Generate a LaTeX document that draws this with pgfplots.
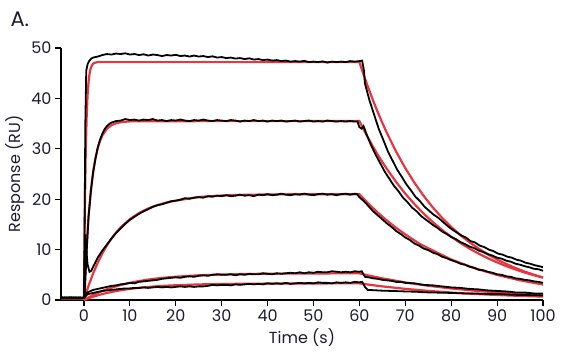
\documentclass[border=0pt]{standalone}
\usepackage{pgfplots}
\pgfplotsset{compat=1.18}
\usepackage{fontspec}
\setmainfont{Poppins}
\definecolor{txt}{HTML}{1C1C30}
\definecolor{fitred}{HTML}{E8353F}
\begin{document}
\begin{tikzpicture}
\path[use as bounding box] (-61pt,-52pt) rectangle (500pt,300pt);
\begin{axis}[
  at={(0,0)}, anchor=south west,
  scale only axis, width=482pt, height=252pt,
  xmin=-5, xmax=100, ymin=0, ymax=50,
  axis x line*=bottom, axis y line*=left,
  axis line style={line width=1.1pt, black},
  xtick={0,10,...,100}, ytick={0,10,...,50},
  tick align=outside, major tick length=6pt,
  tick style={line width=1.1pt, black},
  /pgf/number format/assume math mode=true,
  tick label style={font=\fontsize{16}{19}\selectfont, text=txt},
  label style={font=\fontsize{16}{19}\selectfont, text=txt},
  xlabel={Time (s)}, ylabel={Response (RU)},
  clip=false,
]
% ---------- red fits ----------
\addplot[fitred, line width=2.2pt] coordinates {(-5,0.3) (0,0.3) (0.2,18.6) (0.4,29.8) (0.6,36.7) (0.8,40.8) (1.0,43.3) (1.3,45.4) (1.6,46.3) (2,46.9) (2.5,47.1) (3,47.2) (60,47.2) (61,44.5) (62,41.95) (63,39.54) (64,37.28) (65,35.14) (66,33.13) (68,29.44) (70,26.16) (72,23.25) (74,20.66) (76,18.36) (78,16.32) (80,14.5) (82,12.89) (84,11.45) (86,10.18) (88,9.05) (90,8.04) (92,7.14) (94,6.35) (96,5.64) (98,5.02) (100,4.46)};
\addplot[fitred, line width=2.2pt] coordinates {(0,0) (0.5,9.59) (1,16.59) (1.5,21.7) (2,25.43) (2.5,28.15) (3,30.14) (3.5,31.58) (4,32.64) (5,33.98) (6,34.69) (7,35.07) (8,35.27) (10,35.44) (12,35.48) (60,35.5) (61,33.7) (62,31.99) (63,30.37) (64,28.83) (65,27.37) (66,25.99) (68,23.42) (70,21.1) (72,19.02) (74,17.14) (76,15.45) (78,13.92) (80,12.55) (82,11.31) (84,10.19) (86,9.18) (88,8.28) (90,7.46) (92,6.72) (94,6.06) (96,5.46) (98,4.92) (100,4.43)};
\addplot[fitred, line width=2.2pt] coordinates {(0,0) (1,2.83) (2,5.28) (3,7.4) (4,9.24) (5,10.83) (6,12.2) (7,13.39) (8,14.42) (10,16.04) (12,17.25) (14,18.16) (16,18.83) (18,19.34) (20,19.71) (25,20.44) (30,20.73) (35,20.87) (40,20.94) (50,20.99) (60,21.0) (62,19.08) (64,17.34) (66,15.76) (68,14.32) (70,13.01) (73.2,11.1) (75,10.27) (80,8.04) (85,6.33) (90,4.97) (95,3.9) (100,3.07)};
\addplot[fitred, line width=2.2pt] coordinates {(0,0) (1,0.52) (2,0.99) (3,1.41) (4,1.79) (5,2.13) (6,2.44) (8,2.98) (10,3.41) (12,3.76) (14,4.05) (16,4.28) (18,4.47) (20,4.62) (25,4.9) (30,5.06) (35,5.16) (40,5.21) (45,5.25) (50,5.27) (55,5.28) (60,5.29) (62,4.87) (65,4.3) (70,3.48) (75,2.82) (80,2.29) (85,1.85) (90,1.5) (95,1.22) (100,0.99)};
\addplot[fitred, line width=2.2pt] coordinates {(0,0) (1,0.34) (2,0.65) (3,0.93) (4,1.17) (5,1.4) (6,1.59) (8,1.93) (10,2.2) (12,2.42) (14,2.59) (16,2.73) (18,2.84) (20,2.93) (25,3.09) (30,3.18) (40,3.26) (50,3.29) (60,3.3) (62,3.05) (65,2.7) (70,2.21) (75,1.81) (80,1.48) (85,1.21) (90,0.99) (95,0.81) (100,0.67)};
% ---------- black data ----------
\addplot[black, line width=1.8pt] coordinates {(-5,0.5) (-4,0.4) (-3,0.5) (-2,0.4) (-1,0.5) (0,0.4) (0.1,10) (0.3,35) (0.5,45.5) (0.8,46.8) (1.2,47.5) (1.6,47.9) (2,48.1) (3,48.3) (4,48.6) (5,48.8) (6,48.7) (7,48.9) (8,48.8) (9,48.95) (10,48.7) (11,48.8) (12,48.6) (13,48.75) (14,48.5) (15,48.7) (16,48.6) (17,48.4) (18,48.6) (19,48.5) (20,48.65) (21,48.4) (22,48.5) (23,48.3) (24,48.5) (25,48.3) (26,48.4) (27,48.2) (28,48.35) (29,48.1) (30,48.2) (31,48.0) (32,48.1) (33,47.9) (34,48.0) (35,47.8) (36,47.95) (37,47.7) (38,47.8) (39,47.6) (40,47.7) (41,47.5) (42,47.6) (43,47.4) (44,47.5) (45,47.3) (46,47.4) (47,47.3) (48,47.45) (49,47.2) (50,47.3) (51,47.2) (52,47.35) (53,47.1) (54,47.3) (55,47.2) (56,47.3) (57,47.2) (58,47.4) (59,47.3) (60,47.4) (60.6,47.5) (61.0,45.5) (61.2,43.0) (62.2,39.6) (63.2,36.8) (64.2,34.0) (65.2,31.8) (66.2,29.5) (67.2,27.7) (68.2,25.9) (69.2,24.5) (70.2,23.0) (71.2,21.8) (72.2,20.5) (73.2,19.6) (74.2,18.5) (75.2,17.7) (76.2,16.9) (77.2,16.3) (78.2,15.5) (79.2,14.7) (80.2,14.0) (81.2,13.4) (82.2,12.8) (83.2,12.4) (84.2,11.7) (85.2,11.4) (86.2,10.8) (87.2,10.5) (88.2,10.0) (89.2,9.7) (90.2,9.2) (91.2,9.0) (92.2,8.6) (93.2,8.4) (94.2,8.0) (95.2,7.8) (96.2,7.4) (97.2,7.2) (98.2,6.9) (99.2,6.7) (100,6.5)};
\addplot[black, line width=1.8pt] coordinates {(-5,0.4) (-4,0.5) (-3,0.4) (-2,0.5) (-1,0.4) (0,0.4) (0.2,1.5) (0.5,8) (1.0,16.5) (1.5,21.5) (2,25.3) (2.5,28) (3,30.2) (3.5,31.8) (4,33.0) (4.5,33.9) (5,34.5) (5.5,34.9) (6,35.2) (7,35.5) (8,35.6) (9,35.9) (10,35.7) (11,35.8) (12,35.6) (13,35.8) (14,35.7) (15,35.9) (16,35.6) (17,35.7) (18,35.5) (19,35.7) (20,35.6) (21,35.8) (22,35.6) (23,35.5) (24,35.7) (25,35.6) (26,35.8) (27,35.6) (28,35.5) (29,35.7) (30,35.6) (31,35.5) (32,35.7) (33,35.6) (34,35.4) (35,35.6) (36,35.5) (37,35.7) (38,35.5) (39,35.6) (40,35.4) (41,35.6) (42,35.5) (43,35.6) (44,35.4) (45,35.5) (46,35.6) (47,35.4) (48,35.5) (49,35.6) (50,35.4) (51,35.5) (52,35.4) (53,35.6) (54,35.5) (55,35.4) (56,35.5) (57,35.4) (58,35.5) (59,35.4) (59.6,35.4) (60.0,34.3) (60.5,34.0) (60.9,34.5) (61.2,33.8) (61.5,33.0) (62.5,30.8) (63.5,28.9) (64.5,27.2) (65.5,25.5) (66.5,24.1) (67.5,22.7) (68.5,21.6) (69.5,20.3) (70.5,19.4) (71.5,18.3) (72.5,17.6) (73.5,16.6) (75,15.6) (76,14.9) (77,14.3) (78,13.6) (79,13.1) (80,12.5) (81,12.1) (82,11.5) (83,11.1) (84,10.6) (85,10.3) (86,9.8) (87,9.5) (88,9.1) (89,8.8) (90,8.4) (91,8.2) (92,7.8) (93,7.6) (94,7.2) (95,7.0) (96,6.7) (97,6.5) (98,6.2) (99,6.1) (100,5.8)};
\addplot[black, line width=1.8pt] coordinates {(-5,0.5) (-4,0.4) (-3,0.5) (-2,0.5) (-1,0.4) (0,0.5) (0.15,6) (0.3,13) (0.5,10) (0.8,7) (1.2,5.6) (1.6,5.8) (2,6.6) (2.5,7.5) (3,8.4) (4,9.8) (5,11.0) (6,12.2) (7,13.3) (8,14.2) (9,15.1) (10,15.9) (11,16.5) (12,17.1) (13,17.6) (14,18.0) (15,18.5) (16,18.8) (17,19.0) (18,19.3) (19,19.6) (20,19.7) (21,19.9) (22,20.2) (23,20.1) (24,20.3) (25,20.4) (26,20.3) (27,20.6) (28,20.5) (29,20.7) (30,20.6) (31,20.8) (32,20.6) (33,20.7) (34,20.9) (35,20.7) (36,20.8) (37,20.6) (38,20.9) (39,20.8) (40,21.0) (41,20.8) (42,20.9) (43,21.1) (44,20.9) (45,20.8) (46,21.0) (47,20.9) (48,21.1) (49,20.9) (50,20.8) (51,21.0) (52,21.1) (53,20.9) (54,21.0) (55,20.8) (56,21.0) (57,21.1) (58,20.9) (59,21.1) (59.5,21.0) (60,20.4) (61,19.6) (62,18.6) (63,17.6) (64,16.8) (65,16.0) (66,15.2) (67,14.5) (68,13.7) (69,13.1) (70,12.4) (71,11.9) (72,11.2) (73,10.8) (74,10.2) (75,9.9) (76,9.4) (77,9.1) (78,8.6) (79,8.3) (80,7.9) (81,7.6) (82,7.2) (83,7.0) (84,6.6) (85,6.4) (86,6.0) (87,5.9) (88,5.6) (89,5.4) (90,5.1) (91,5.0) (92,4.7) (93,4.6) (94,4.3) (95,4.2) (96,4.0) (97,3.9) (98,3.7) (99,3.6) (100,3.4)};
\addplot[black, line width=1.8pt] coordinates {(-5,0.4) (-4,0.5) (-3,0.4) (-2,0.4) (-1,0.5) (0,0.4) (0.3,0.8) (0.6,1.3) (1,1.6) (1.5,1.8) (2,2.0) (3,2.2) (4,2.4) (5,2.6) (6,2.8) (7,2.9) (8,3.1) (9,3.2) (10,3.4) (11,3.3) (12,3.6) (13,3.7) (14,3.8) (15,3.9) (16,4.0) (17,4.2) (18,4.3) (19,4.4) (20,4.5) (21,4.4) (22,4.6) (23,4.7) (24,4.6) (25,4.8) (26,4.9) (27,4.8) (28,5.0) (29,5.1) (30,5.0) (31,5.0) (32,5.1) (33,4.9) (34,5.1) (35,5.0) (36,5.2) (37,5.1) (38,5.1) (39,5.3) (40,5.2) (41,5.1) (42,5.3) (43,5.2) (44,5.3) (45,5.4) (46,5.3) (47,5.5) (48,5.3) (49,5.5) (50,5.4) (51,5.6) (52,5.5) (53,5.5) (54,5.7) (55,5.6) (56,5.5) (57,5.6) (58,5.5) (59,5.7) (60,5.6) (60.5,5.7) (61.2,4.6) (62,4.5) (63,4.3) (64,4.2) (65,4.0) (66,3.9) (67,3.8) (68,3.6) (69,3.6) (70,3.4) (72,3.3) (74,3.0) (76,2.9) (78,2.7) (80,2.5) (82,2.4) (84,2.2) (86,2.1) (88,1.9) (90,1.8) (92,1.7) (94,1.5) (96,1.5) (98,1.3) (100,1.3)};
\addplot[black, line width=1.8pt] coordinates {(-5,0.5) (-4,0.4) (-3,0.5) (-2,0.4) (-1,0.4) (0,0.4) (0.3,0.7) (0.6,1.0) (1,1.2) (2,1.4) (3,1.6) (4,1.8) (5,1.9) (6,2.0) (7,2.1) (8,2.2) (9,2.3) (10,2.3) (11,2.4) (12,2.4) (13,2.5) (14,2.4) (15,2.5) (16,2.6) (17,2.5) (18,2.6) (19,2.5) (20,2.6) (21,2.7) (22,2.6) (23,2.7) (24,2.6) (25,2.7) (26,2.7) (27,2.8) (28,3.0) (29,2.9) (30,3.0) (31,3.0) (32,2.9) (33,3.1) (34,3.0) (35,3.1) (36,3.2) (37,3.1) (38,3.2) (39,3.1) (40,3.3) (41,3.2) (42,3.3) (43,3.2) (44,3.4) (45,3.2) (46,3.3) (47,3.4) (48,3.3) (49,3.4) (50,3.3) (51,3.5) (52,3.4) (53,3.4) (54,3.3) (55,3.5) (56,3.4) (57,3.5) (58,3.4) (59,3.6) (60,3.5) (60.6,3.6) (61.2,2.6) (61.8,2.0) (63,1.95) (65,1.85) (67,1.8) (70,1.7) (72,1.65) (75,1.5) (78,1.45) (80,1.4) (83,1.3) (85,1.3) (88,1.2) (90,1.2) (93,1.05) (95,1.0) (98,0.95) (100,0.9)};
\end{axis}
\node[anchor=base west, font=\fontsize{21}{25}\selectfont, text=txt] at (-54pt,273pt) {A.};
\end{tikzpicture}
\end{document}
